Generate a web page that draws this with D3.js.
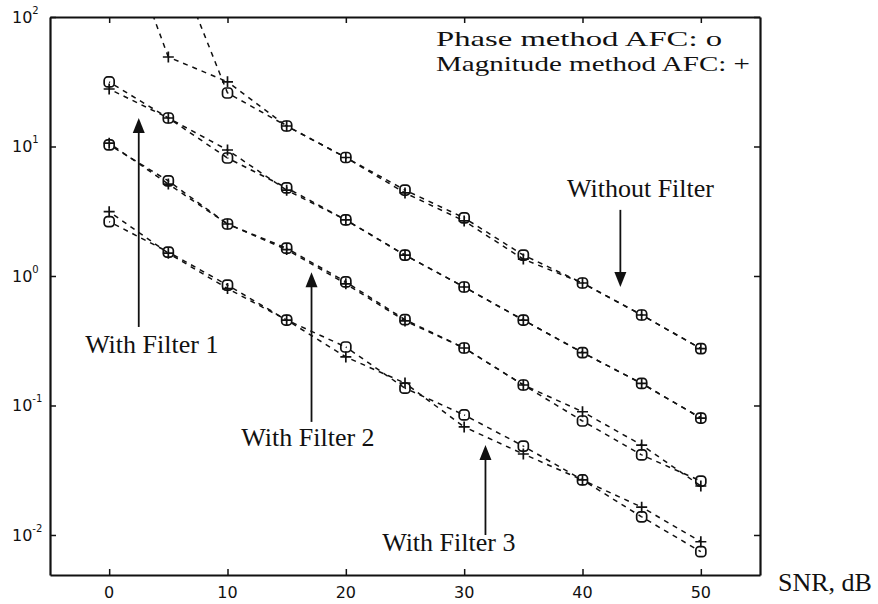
<!DOCTYPE html>
<html><head><meta charset="utf-8">
<script src="https://cdn.jsdelivr.net/npm/d3@7"></script>
<style>
body{margin:0;background:#fff;}
svg{display:block;}
</style></head>
<body>
<svg id="chart" width="878" height="604"></svg>
<script>
// ---- data ----
const snr = [0, 5, 10, 15, 20, 25, 30, 35, 40, 45, 50];
const noFilterPhase = [null, 365, 25.9, 14.4, 8.22, 4.61, 2.81, 1.45, 0.883, 0.50, 0.275];
const noFilterMag   = [850, 49.1, 31.6, 14.4, 8.22, 4.38, 2.66, 1.35, 0.883, 0.50, 0.275];
const filter1Phase  = [31.5, 16.6, 8.15, 4.79, 2.71, 1.45, 0.822, 0.457, 0.256, 0.148, 0.080];
const filter1Mag    = [27.8, 16.6, 9.40, 4.60, 2.71, 1.45, 0.822, 0.457, 0.256, 0.148, 0.080];
const filter2Phase  = [10.3, 5.42, 2.52, 1.64, 0.90, 0.46, 0.278, 0.144, 0.0759, 0.0415, 0.0261];
const filter2Mag    = [10.6, 5.13, 2.52, 1.60, 0.87, 0.45, 0.278, 0.144, 0.0895, 0.0495, 0.0239];
const filter3Phase  = [2.63, 1.53, 0.851, 0.457, 0.283, 0.136, 0.0845, 0.0486, 0.0266, 0.0138, 0.00743];
const filter3Mag    = [3.14, 1.50, 0.80, 0.457, 0.237, 0.149, 0.0683, 0.0422, 0.0266, 0.0164, 0.00887];
const xTicks = [0, 10, 20, 30, 40, 50];
const yTicks = [100, 10, 1, 0.1, 0.01];
const yTickExp = ["2", "1", "0", "-1", "-2"];
const legendLines = ["Phase method AFC: o", "Magnitude method AFC: +"];
const xLabel = "SNR, dB";
const annotations = [
  {text: "Without Filter", x: 44.9, y: 4.07, ax: 43.2, ay0: 3.24, ay1: 0.822, dir: "down"},
  {text: "With Filter 1", x: 3.6, y: 0.254, ax: 2.5, ay0: 0.404, ay1: 16.6, dir: "up"},
  {text: "With Filter 2", x: 16.8, y: 0.0486, ax: 17.1, ay0: 0.0747, ay1: 1.07, dir: "up"},
  {text: "With Filter 3", x: 28.7, y: 0.0075, ax: 31.8, ay0: 0.0100, ay1: 0.0496, dir: "up"}
];

const series = [
  {vals: noFilterPhase, type: "o"}, {vals: noFilterMag, type: "+"},
  {vals: filter1Phase, type: "o"}, {vals: filter1Mag, type: "+"},
  {vals: filter2Phase, type: "o"}, {vals: filter2Mag, type: "+"},
  {vals: filter3Phase, type: "o"}, {vals: filter3Mag, type: "+"}
];

// ---- layout ----
const svg = d3.select("#chart");
const L = 50, R = 760, T = 17, B = 575;
const x = d3.scaleLinear().domain([-5, 55]).range([L, R]);
const y = d3.scaleLog().domain([Math.pow(10, -2.309), 100]).range([B, T]);
const serif = "Liberation Serif, Times New Roman, serif";
const sans = "DejaVu Sans, sans-serif";

svg.append("defs").append("clipPath").attr("id", "clip")
  .append("rect").attr("x", L).attr("y", T).attr("width", R - L).attr("height", B - T);

const plot = svg.append("g").attr("clip-path", "url(#clip)");

const line = d3.line().x(d => x(d.x)).y(d => y(d.v));

series.forEach(s => {
  const pts = snr.map((xx, i) => ({x: xx, v: s.vals[i]}));
  // one dashed path per segment so that overlapping series keep their dash pattern
  const segs = d3.pairs(pts).filter(([a, b]) => a.v != null && b.v != null);
  plot.append("g").selectAll("path").data(segs).enter().append("path")
    .attr("d", line)
    .attr("fill", "none").attr("stroke", "#111")
    .attr("stroke-width", 1.5)
    .attr("stroke-dasharray", "5,5")
    .attr("stroke-dashoffset", -6);
  const g = plot.append("g");
  const valid = pts.filter(d => d.v != null);
  if (s.type === "o") {
    g.selectAll("rect").data(valid).enter().append("rect")
      .attr("x", d => x(d.x) - 5).attr("y", d => y(d.v) - 5)
      .attr("width", 10).attr("height", 10).attr("rx", 3.5)
      .attr("fill", "none").attr("stroke", "#111").attr("stroke-width", 1.7);
  } else {
    g.selectAll("path").data(valid).enter().append("path")
      .attr("d", d => {
        const cx = x(d.x), cy = y(d.v);
        return `M${cx-5.5},${cy}H${cx+5.5}M${cx},${cy-5.5}V${cy+5.5}`;
      })
      .attr("stroke", "#111").attr("stroke-width", 1.7);
  }
});

// ---- axes (frame with inward ticks) ----
const axB = d3.axisBottom(x).tickValues(xTicks).tickSizeInner(-6).tickSizeOuter(0).tickFormat("");
const axT = d3.axisTop(x).tickValues(xTicks).tickSizeInner(-6).tickSizeOuter(0).tickFormat("");
const axL = d3.axisLeft(y).tickValues(yTicks).tickSizeInner(-6).tickSizeOuter(0).tickFormat("");
const axR = d3.axisRight(y).tickValues(yTicks).tickSizeInner(-6).tickSizeOuter(0).tickFormat("");
[[axB, `translate(0,${B})`], [axT, `translate(0,${T})`], [axL, `translate(${L},0)`], [axR, `translate(${R},0)`]]
  .forEach(([ax, tr]) => {
    const g = svg.append("g").attr("transform", tr).call(ax);
    g.select(".domain").attr("stroke", "#111").attr("stroke-width", 2.2);
    g.selectAll(".tick line").attr("stroke", "#111").attr("stroke-width", 1.5);
  });

// x tick labels
svg.append("g").selectAll("text").data(xTicks).enter().append("text")
  .attr("x", d => x(d)).attr("y", B + 23)
  .attr("text-anchor", "middle")
  .attr("font-family", sans).attr("font-size", 16)
  .attr("fill", "#111").text(d => d);

// y tick labels: 10 with superscript exponent
const yl = svg.append("g");
yTicks.forEach((v, i) => {
  const t = yl.append("text")
    .attr("x", 12).attr("y", y(v) + 6)
    .attr("font-family", sans).attr("font-size", 16)
    .attr("fill", "#111");
  t.append("tspan").text("10");
  t.append("tspan").attr("dy", -9).attr("font-size", 10).text(yTickExp[i]);
});

// x label
svg.append("text").attr("x", 778).attr("y", 591)
  .attr("font-family", serif).attr("font-size", 26)
  .attr("fill", "#111").text(xLabel);

// legend text (wide typeface in the original: stretch horizontally)
const legendWidths = [286, 314];
legendLines.forEach((s, i) => {
  svg.append("text").attr("x", 436).attr("y", 46 + i * 25)
    .attr("font-family", serif).attr("font-size", 22)
    .attr("textLength", legendWidths[i]).attr("lengthAdjust", "spacingAndGlyphs")
    .attr("fill", "#111").text(s);
});

// annotations with arrows
const ann = svg.append("g");
annotations.forEach(a => {
  ann.append("text").attr("x", x(a.x)).attr("y", y(a.y))
    .attr("text-anchor", "middle")
    .attr("font-family", serif).attr("font-size", 26)
    .attr("fill", "#111").text(a.text);
  const ax = x(a.ax), y0 = y(a.ay0), y1 = y(a.ay1);
  const s = a.dir === "up" ? 1 : -1; // head direction
  ann.append("line").attr("x1", ax).attr("x2", ax).attr("y1", y0).attr("y2", y1 + s * 10)
    .attr("stroke", "#111").attr("stroke-width", 1.8);
  ann.append("path")
    .attr("d", `M${ax},${y1}L${ax-6},${y1 + s * 15}L${ax+6},${y1 + s * 15}Z`)
    .attr("fill", "#111");
});
</script>
</body></html>
